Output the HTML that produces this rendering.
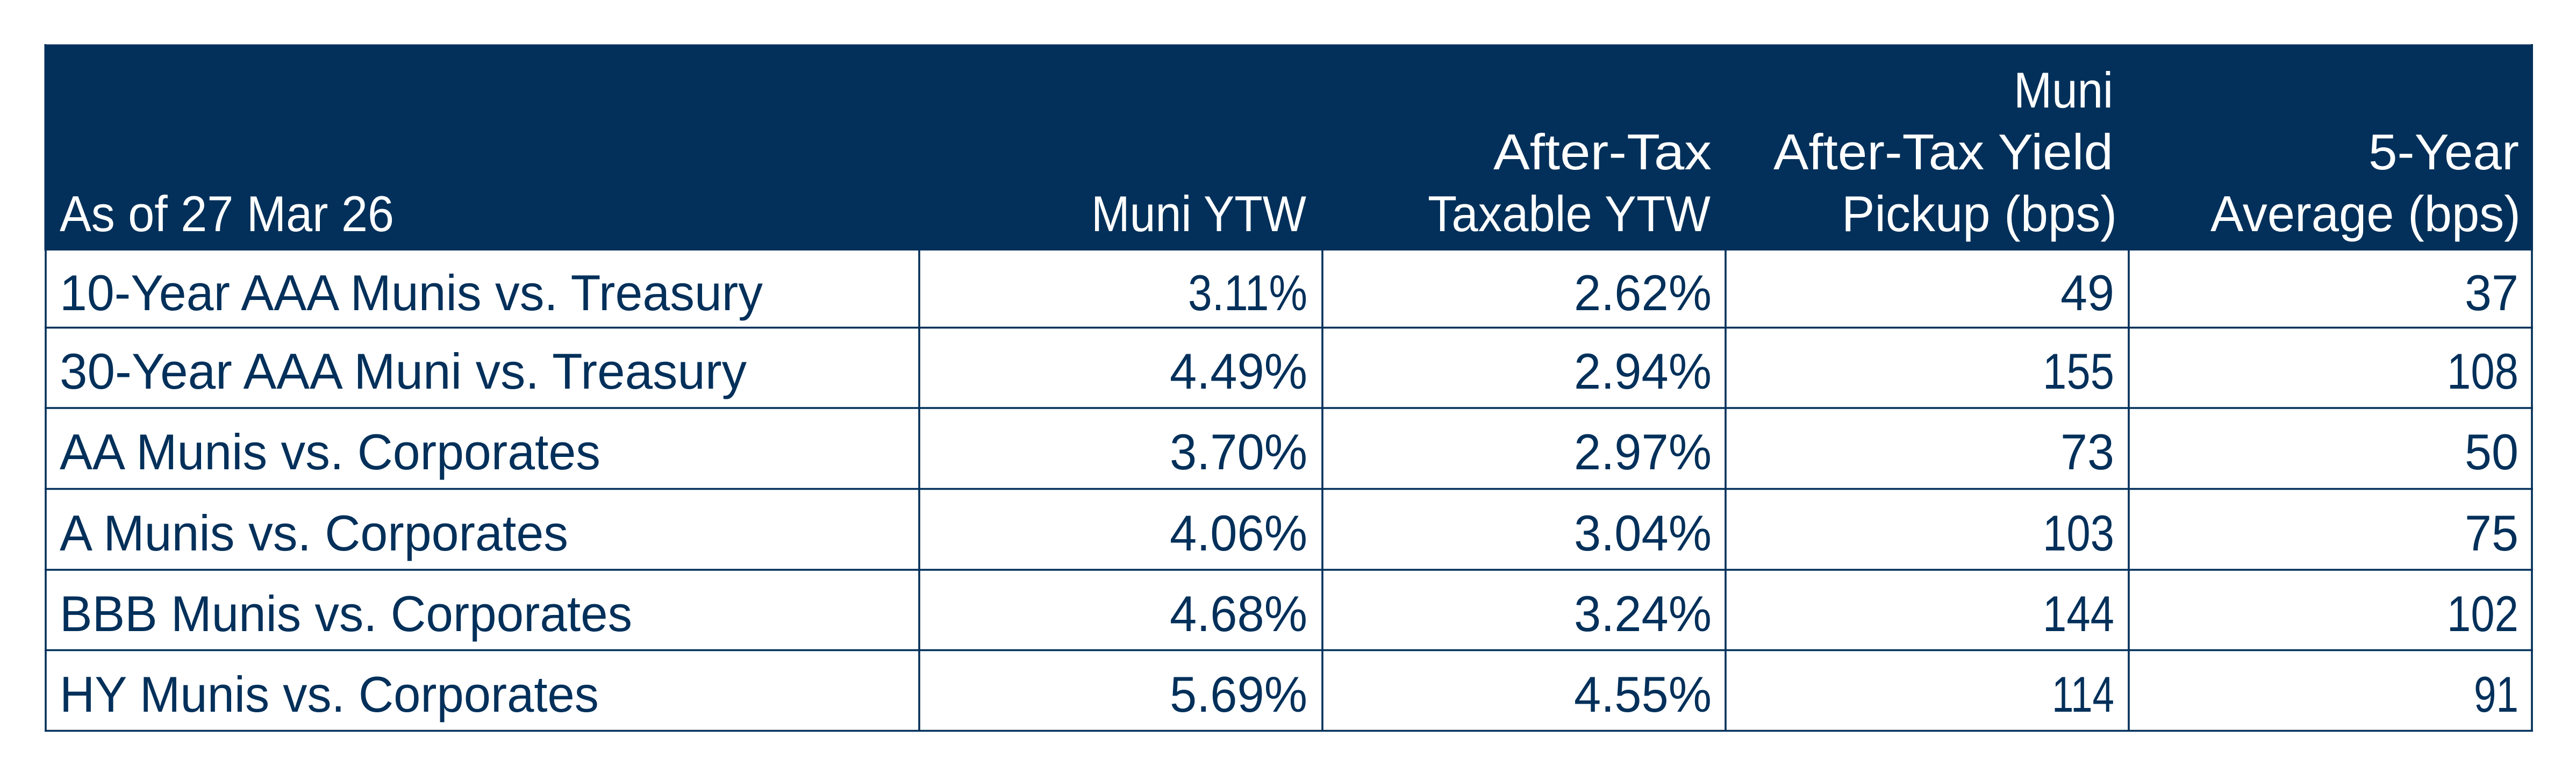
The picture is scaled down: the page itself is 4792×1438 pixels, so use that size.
<!DOCTYPE html>
<html>
<head>
<meta charset="utf-8">
<style>
  html, body { margin: 0; padding: 0; background: #ffffff; }
  body { width: 4792px; height: 1438px; overflow: hidden; }
  svg { display: block; }
  text { font-family: "Liberation Sans", Arial, sans-serif; font-size: 94px; }
  .h { fill: #ffffff; }
  .b { fill: #02305a; }
</style>
</head>
<body>
<svg width="4792" height="1438" viewBox="0 0 4792 1438" xmlns="http://www.w3.org/2000/svg">
  <rect x="0" y="0" width="4792" height="1438" fill="#ffffff"/>
  <!-- header -->
  <rect x="83" y="82" width="4629" height="384" fill="#02305a"/>
  <line x1="83" y1="82.5" x2="4712" y2="82.5" stroke="#8a9bb0" stroke-width="1"/>

  <!-- vertical lines -->
  <g stroke="#02305a" stroke-width="3.6">
    <line x1="85" y1="464" x2="85" y2="1361"/>
    <line x1="1710" y1="464" x2="1710" y2="1361"/>
    <line x1="2460" y1="464" x2="2460" y2="1361"/>
    <line x1="3210" y1="464" x2="3210" y2="1361"/>
    <line x1="3960" y1="464" x2="3960" y2="1361"/>
    <line x1="4710" y1="82" x2="4710" y2="1361"/>
  </g>
  <line x1="84" y1="82" x2="84" y2="466" stroke="#02305a" stroke-width="3"/>
  <!-- horizontal lines -->
  <g stroke="#02305a" stroke-width="3.6">
    <line x1="83" y1="609.5" x2="4712" y2="609.5"/>
    <line x1="83" y1="759" x2="4712" y2="759"/>
    <line x1="83" y1="909.5" x2="4712" y2="909.5"/>
    <line x1="83" y1="1060" x2="4712" y2="1060"/>
    <line x1="83" y1="1209.5" x2="4712" y2="1209.5"/>
    <line x1="83" y1="1359.5" x2="4712" y2="1359.5"/>
  </g>

  <!-- header text -->
  <text class="h" x="111" y="430" textLength="622" lengthAdjust="spacingAndGlyphs">As of 27 Mar 26</text>
  <text class="h" x="2030" y="430" textLength="400" lengthAdjust="spacingAndGlyphs">Muni YTW</text>
  <text class="h" x="2778" y="315" textLength="406" lengthAdjust="spacingAndGlyphs">After-Tax</text>
  <text class="h" x="2656" y="430" textLength="526" lengthAdjust="spacingAndGlyphs">Taxable YTW</text>
  <text class="h" x="3746" y="200" textLength="185" lengthAdjust="spacingAndGlyphs">Muni</text>
  <text class="h" x="3299" y="315" textLength="632" lengthAdjust="spacingAndGlyphs">After-Tax Yield</text>
  <text class="h" x="3426" y="430" textLength="512" lengthAdjust="spacingAndGlyphs">Pickup (bps)</text>
  <text class="h" x="4406" y="315" textLength="280" lengthAdjust="spacingAndGlyphs">5-Year</text>
  <text class="h" x="4112" y="430" textLength="577" lengthAdjust="spacingAndGlyphs">Average (bps)</text>

  <!-- row labels -->
  <text class="b" x="111" y="577" textLength="1308" lengthAdjust="spacingAndGlyphs">10-Year AAA Munis vs. Treasury</text>
  <text class="b" x="111" y="723" textLength="1278" lengthAdjust="spacingAndGlyphs">30-Year AAA Muni vs. Treasury</text>
  <text class="b" x="111" y="873" textLength="1006" lengthAdjust="spacingAndGlyphs">AA Munis vs. Corporates</text>
  <text class="b" x="111" y="1024" textLength="946" lengthAdjust="spacingAndGlyphs">A Munis vs. Corporates</text>
  <text class="b" x="111" y="1174" textLength="1065" lengthAdjust="spacingAndGlyphs">BBB Munis vs. Corporates</text>
  <text class="b" x="111" y="1324" textLength="1003" lengthAdjust="spacingAndGlyphs">HY Munis vs. Corporates</text>

  <!-- Muni YTW -->
  <text class="b" x="2210" y="577" textLength="222" lengthAdjust="spacingAndGlyphs">3.11%</text>
  <text class="b" x="2176" y="723" textLength="256" lengthAdjust="spacingAndGlyphs">4.49%</text>
  <text class="b" x="2176" y="873" textLength="256" lengthAdjust="spacingAndGlyphs">3.70%</text>
  <text class="b" x="2176" y="1024" textLength="256" lengthAdjust="spacingAndGlyphs">4.06%</text>
  <text class="b" x="2176" y="1174" textLength="256" lengthAdjust="spacingAndGlyphs">4.68%</text>
  <text class="b" x="2176" y="1324" textLength="256" lengthAdjust="spacingAndGlyphs">5.69%</text>

  <!-- After-Tax Taxable YTW -->
  <text class="b" x="2928" y="577" textLength="256" lengthAdjust="spacingAndGlyphs">2.62%</text>
  <text class="b" x="2928" y="723" textLength="256" lengthAdjust="spacingAndGlyphs">2.94%</text>
  <text class="b" x="2928" y="873" textLength="256" lengthAdjust="spacingAndGlyphs">2.97%</text>
  <text class="b" x="2928" y="1024" textLength="256" lengthAdjust="spacingAndGlyphs">3.04%</text>
  <text class="b" x="2928" y="1174" textLength="256" lengthAdjust="spacingAndGlyphs">3.24%</text>
  <text class="b" x="2928" y="1324" textLength="256" lengthAdjust="spacingAndGlyphs">4.55%</text>

  <!-- Pickup -->
  <text class="b" x="3833" y="577" textLength="100" lengthAdjust="spacingAndGlyphs">49</text>
  <text class="b" x="3800" y="723" textLength="133" lengthAdjust="spacingAndGlyphs">155</text>
  <text class="b" x="3833" y="873" textLength="100" lengthAdjust="spacingAndGlyphs">73</text>
  <text class="b" x="3800" y="1024" textLength="133" lengthAdjust="spacingAndGlyphs">103</text>
  <text class="b" x="3800" y="1174" textLength="133" lengthAdjust="spacingAndGlyphs">144</text>
  <text class="b" x="3817" y="1324" textLength="116" lengthAdjust="spacingAndGlyphs">114</text>

  <!-- 5-Year Average -->
  <text class="b" x="4585" y="577" textLength="100" lengthAdjust="spacingAndGlyphs">37</text>
  <text class="b" x="4552" y="723" textLength="133" lengthAdjust="spacingAndGlyphs">108</text>
  <text class="b" x="4585" y="873" textLength="100" lengthAdjust="spacingAndGlyphs">50</text>
  <text class="b" x="4585" y="1024" textLength="100" lengthAdjust="spacingAndGlyphs">75</text>
  <text class="b" x="4552" y="1174" textLength="133" lengthAdjust="spacingAndGlyphs">102</text>
  <text class="b" x="4602" y="1324" textLength="83" lengthAdjust="spacingAndGlyphs">91</text>
</svg>
</body>
</html>
